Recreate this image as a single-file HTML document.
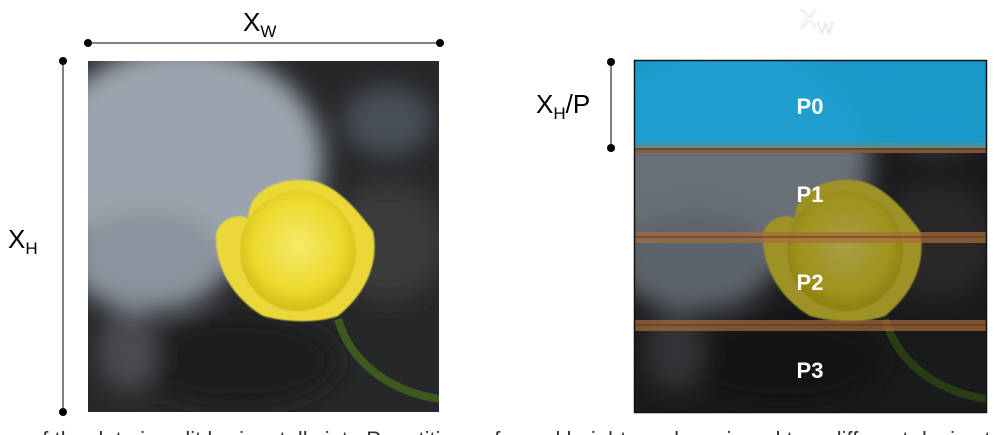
<!DOCTYPE html>
<html><head><meta charset="utf-8"><style>
html,body{margin:0;padding:0;background:#fff;width:1005px;height:435px;overflow:hidden;font-family:"Liberation Sans",sans-serif}
</style></head><body>
<svg width="1005" height="435" viewBox="0 0 1005 435" xmlns="http://www.w3.org/2000/svg">
<defs>
<filter id="bl" x="-20%" y="-20%" width="140%" height="140%"><feGaussianBlur stdDeviation="12"/></filter>
<filter id="bl2"><feGaussianBlur stdDeviation="0.8"/></filter>
<radialGradient id="bud" cx="0.5" cy="0.45" r="0.55"><stop offset="0" stop-color="#f7ea6a"/><stop offset="0.7" stop-color="#ecd92c"/><stop offset="1" stop-color="#d2bc1a"/></radialGradient>
<clipPath id="pc"><rect x="0" y="0" width="351" height="351"/></clipPath>
<g id="photo">
 <g clip-path="url(#pc)">
  <rect width="351" height="351" fill="#262729"/>
  <g filter="url(#bl)">
   <ellipse cx="95" cy="100" rx="140" ry="115" fill="#9ba4ae"/>
   <ellipse cx="60" cy="200" rx="80" ry="50" fill="#8a939d"/>
   <ellipse cx="300" cy="60" rx="45" ry="35" fill="#4a4f56"/>
   <ellipse cx="300" cy="180" rx="60" ry="60" fill="#3a3b3d"/>
   <ellipse cx="150" cy="300" rx="100" ry="45" fill="#1a1b1c"/>
   <ellipse cx="40" cy="290" rx="30" ry="40" fill="#4a4c50"/>
  </g>
  <path d="M250,258 C262,300 300,330 351,338" stroke="#3d5a1e" stroke-width="8" fill="none"/>
  <g filter="url(#bl2)">
   <path d="M128,180 C125,160 150,150 160,158 C160,130 190,115 225,120 C250,125 270,150 285,170 C292,205 275,235 250,255 C230,262 200,262 175,255 C150,240 130,215 128,180Z" fill="#e9d838"/>
   <ellipse cx="210" cy="190" rx="58" ry="60" fill="url(#bud)"/>
  </g>
 </g>
</g>
</defs>

<use href="#photo" x="88" y="61"/>

<g>
<line x1="88" y1="43" x2="440" y2="43" stroke="#000" stroke-width="1"/>
<circle cx="88" cy="43" r="4" fill="#000"/><circle cx="440" cy="43" r="4" fill="#000"/>
<text x="243" y="31" font-size="26" fill="#000">X<tspan font-size="17" dy="6">W</tspan></text>
</g>
<g>
<line x1="63" y1="61" x2="63" y2="412" stroke="#000" stroke-width="1"/>
<circle cx="63" cy="61" r="4" fill="#000"/><circle cx="63" cy="412" r="4" fill="#000"/>
<text x="8" y="248" font-size="26" fill="#000">X<tspan font-size="17" dy="6">H</tspan></text>
</g>

<g>
<use href="#photo" x="635" y="61"/>
<rect x="635" y="61" width="351" height="351" fill="#000" opacity="0.32"/>
<rect x="635" y="61" width="351" height="82" fill="#1aa2d6" opacity="0.93"/>
<rect x="635" y="143" width="351" height="5" fill="#4e8f98"/>
<rect x="635" y="148" width="351" height="5" fill="#8a5a3a" opacity="0.9"/>
<line x1="635" y1="149" x2="986" y2="149" stroke="#5a3218" stroke-width="1"/>
<rect x="635" y="232" width="351" height="11" fill="#a86c3c" opacity="0.7"/>
<line x1="635" y1="237" x2="986" y2="237" stroke="#5a3218" stroke-width="1"/>
<rect x="635" y="320" width="351" height="11" fill="#a86c3c" opacity="0.7"/>
<line x1="635" y1="325" x2="986" y2="325" stroke="#5a3218" stroke-width="1"/>
<rect x="634.5" y="60.5" width="352" height="352" fill="none" stroke="#111" stroke-width="1.5"/>
<g font-size="22" font-weight="bold" fill="#fff" text-anchor="middle">
<text x="810" y="114">P0</text>
<text x="810" y="202">P1</text>
<text x="810" y="290">P2</text>
<text x="810" y="378">P3</text>
</g>
</g>
<text x="800" y="28" font-size="26" fill="#fff" stroke="#e4e4e4" stroke-width="0.8">X<tspan font-size="17" dy="6">W</tspan></text>

<g>
<line x1="611" y1="62" x2="611" y2="148" stroke="#000" stroke-width="1"/>
<circle cx="611" cy="62" r="4" fill="#000"/><circle cx="611" cy="148" r="4" fill="#000"/>
<text x="536" y="113" font-size="26" fill="#000">X<tspan font-size="17" dy="6">H</tspan><tspan dy="-6">/P</tspan></text>
</g>

<text x="30" y="447" font-size="22" fill="#333">of the data is split horizontally into P partitions of equal height, each assigned to a different device to be processed</text>
</svg>
</body></html>
